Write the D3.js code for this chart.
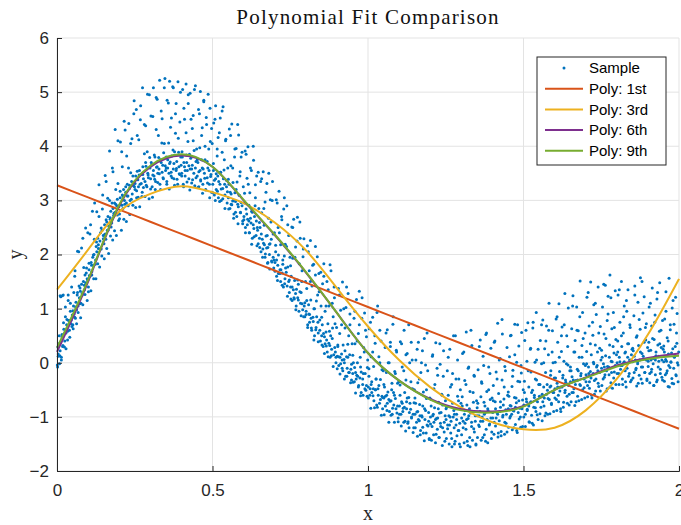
<!DOCTYPE html>
<html>
<head>
<meta charset="utf-8">
<script src="https://cdn.jsdelivr.net/npm/d3@7"></script>
<style>
  body { margin: 0; background: #fff; }
  svg { display: block; }
</style>
</head>
<body>
<div id="chart"></div>
<script>
// ---- data ----
const xTicks = [0, 0.5, 1, 1.5, 2];
const yTicks = [-2, -1, 0, 1, 2, 3, 4, 5, 6];
const fitX = [0,0.1,0.2,0.3,0.4,0.5,0.6,0.7,0.8,0.9,1.0,1.1,1.2,1.3,1.4,1.5,1.6,1.7,1.8,1.9,2.0];
const poly1 = [3.28,3.055,2.83,2.605,2.38,2.155,1.93,1.705,1.48,1.255,1.03,0.805,0.58,0.355,0.13,-0.095,-0.32,-0.545,-0.77,-0.995,-1.22];
const poly3 = [1.35,2.09,2.79,3.12,3.26,3.15,2.95,2.59,2.08,1.38,0.67,0.05,-0.45,-0.83,-1.1,-1.23,-1.2,-0.88,-0.3,0.52,1.55];
const poly6 = [0.2,1.5,2.9,3.62,3.83,3.62,3.0,2.36,1.67,0.92,0.18,-0.33,-0.67,-0.86,-0.9,-0.8,-0.5,-0.27,-0.05,0.09,0.17];
const poly9 = [0.28,1.53,2.92,3.64,3.85,3.62,3.01,2.37,1.68,0.92,0.18,-0.33,-0.68,-0.88,-0.92,-0.81,-0.5,-0.28,-0.07,0.07,0.13];

// sample points, first pass, grouped by x range
const sampleA = [
[0.002,-0.08],[0.004,0.12],[0.006,0.35],[0.008,-0.02],[0.010,0.22],[0.012,1.22],[0.014,0.05],[0.016,0.48],[0.018,0.3],[0.020,1.25],[0.022,0.62],[0.025,0.4],[0.027,0.85],[0.029,0.55],[0.031,0.7],[0.034,0.42],[0.036,1.15],[0.038,0.78],[0.040,0.6],[0.043,0.95],[0.045,0.72],[0.047,1.4],[0.049,0.88],
[0.051,0.7],[0.053,1.05],[0.055,0.9],[0.057,1.6],[0.059,0.82],[0.061,1.12],[0.063,0.98],[0.066,1.3],[0.068,1.05],[0.070,2.05],[0.072,1.2],[0.074,1.38],[0.077,1.1],[0.079,1.45],[0.081,1.28],[0.083,2.3],[0.085,1.5],[0.088,1.35],[0.090,1.62],[0.092,1.48],[0.095,1.75],[0.097,1.55],[0.099,2.4],
[0.101,1.4],[0.103,1.72],[0.106,1.6],[0.108,2.55],[0.110,1.85],[0.112,1.68],[0.115,1.95],[0.117,1.8],[0.119,2.0],[0.121,2.95],[0.124,1.9],[0.126,2.15],[0.128,2.05],[0.131,2.3],[0.133,2.18],[0.135,2.7],[0.138,2.25],[0.140,2.4],[0.142,2.1],[0.145,2.45],[0.147,3.1],[0.149,2.35],
[0.151,2.2],[0.153,2.55],[0.155,2.38],[0.158,3.35],[0.160,2.6],[0.162,2.45],[0.164,2.7],[0.167,2.52],[0.169,3.0],[0.171,2.65],[0.173,2.8],[0.176,2.58],[0.178,3.6],[0.180,2.85],[0.182,2.72],[0.185,2.95],[0.187,2.78],[0.189,3.2],[0.192,2.9],[0.194,3.02],[0.196,4.1],[0.199,2.88],
[0.201,2.75],[0.203,3.05],[0.205,2.92],[0.208,3.9],[0.210,3.1],[0.212,2.85],[0.214,3.2],[0.217,3.0],[0.219,4.3],[0.221,3.15],[0.223,2.95],[0.226,3.3],[0.228,3.08],[0.230,3.6],[0.233,3.22],[0.235,3.0],[0.237,4.05],[0.240,3.35],[0.242,3.12],[0.244,3.45],[0.247,4.6],[0.249,3.25],
[0.251,3.2],[0.253,3.45],[0.256,3.05],[0.258,4.2],[0.260,3.38],[0.262,3.25],[0.265,3.55],[0.267,3.3],[0.269,4.75],[0.271,3.48],[0.274,3.15],[0.276,3.62],[0.278,3.4],[0.281,4.4],[0.283,3.35],[0.285,3.7],[0.287,3.28],[0.290,3.9],[0.292,3.5],[0.294,3.42],[0.297,4.95],[0.299,3.6],
[0.301,3.4],[0.303,3.7],[0.306,3.25],[0.308,4.55],[0.310,3.55],[0.312,3.45],[0.315,3.8],[0.317,3.35],[0.319,4.9],[0.322,3.62],[0.324,3.5],[0.326,4.2],[0.328,3.58],[0.331,3.3],[0.333,3.75],[0.335,4.65],[0.338,3.52],[0.340,3.65],[0.342,3.4],[0.345,4.05],[0.347,5.25],[0.349,3.55],
[0.351,3.6],[0.353,3.35],[0.356,3.75],[0.358,4.8],[0.360,3.5],[0.362,3.68],[0.365,4.35],[0.367,3.45],[0.369,3.82],[0.372,5.1],[0.374,3.58],[0.376,3.4],[0.378,3.9],[0.381,4.6],[0.383,3.55],[0.385,3.72],[0.388,3.3],[0.390,4.15],[0.392,3.62],[0.395,3.48],[0.397,5.0],[0.399,3.65],
[0.401,3.5],[0.403,3.8],[0.406,3.3],[0.408,4.7],[0.410,3.62],[0.412,3.45],[0.415,4.25],[0.417,3.7],[0.419,3.55],[0.422,4.95],[0.424,3.4],[0.426,3.85],[0.428,3.58],[0.431,4.5],[0.433,3.32],[0.435,3.65],[0.438,4.1],[0.440,3.5],[0.442,5.05],[0.445,3.6],[0.447,3.42],[0.449,3.95],
[0.451,3.45],[0.453,3.7],[0.456,3.25],[0.458,4.6],[0.460,3.55],[0.462,3.38],[0.465,4.2],[0.467,3.6],[0.469,3.3],[0.472,4.85],[0.474,3.5],[0.476,3.75],[0.478,3.2],[0.481,4.4],[0.483,3.42],[0.485,3.6],[0.488,3.95],[0.490,3.3],[0.492,4.7],[0.495,3.48],[0.497,3.15],[0.499,4.05]
];
const sampleB = [
[0.501,3.3],[0.503,3.55],[0.506,3.1],[0.508,4.5],[0.510,3.4],[0.512,3.2],[0.515,3.95],[0.517,3.45],[0.519,3.05],[0.522,4.25],[0.524,3.3],[0.526,3.52],[0.528,3.0],[0.531,4.65],[0.533,3.22],[0.535,3.4],[0.538,3.75],[0.540,3.1],[0.542,4.1],[0.545,3.25],[0.547,2.95],[0.549,3.6],
[0.551,3.05],[0.553,3.3],[0.556,2.85],[0.558,4.2],[0.560,3.12],[0.562,2.92],[0.565,3.6],[0.567,3.0],[0.569,2.75],[0.572,3.95],[0.574,2.98],[0.576,3.2],[0.578,2.7],[0.581,4.4],[0.583,2.88],[0.585,3.1],[0.588,3.45],[0.590,2.78],[0.592,3.8],[0.595,2.9],[0.597,2.62],[0.599,3.25],
[0.601,2.7],[0.603,2.95],[0.606,2.5],[0.608,3.85],[0.610,2.75],[0.612,2.55],[0.615,3.3],[0.617,2.62],[0.619,2.4],[0.622,3.6],[0.624,2.58],[0.626,2.8],[0.628,2.3],[0.631,4.0],[0.633,2.48],[0.635,2.7],[0.638,3.05],[0.640,2.35],[0.642,3.45],[0.645,2.45],[0.647,2.2],[0.649,2.85],
[0.651,2.3],[0.653,2.5],[0.656,2.05],[0.658,3.4],[0.660,2.28],[0.662,2.1],[0.665,2.85],[0.667,2.18],[0.669,1.95],[0.672,3.15],[0.674,2.12],[0.676,2.35],[0.678,1.85],[0.681,3.5],[0.683,2.0],[0.685,2.2],[0.688,2.6],[0.690,1.88],[0.692,3.0],[0.695,1.95],[0.697,1.75],[0.699,2.4],
[0.701,1.85],[0.703,2.05],[0.706,1.6],[0.708,2.95],[0.710,1.8],[0.712,1.65],[0.715,2.4],[0.717,1.72],[0.719,1.5],[0.722,2.7],[0.724,1.66],[0.726,1.9],[0.728,1.4],[0.731,3.05],[0.733,1.55],[0.735,1.75],[0.738,2.15],[0.740,1.42],[0.742,2.55],[0.745,1.5],[0.747,1.3],[0.749,1.95],
[0.751,1.4],[0.753,1.6],[0.756,1.15],[0.758,2.5],[0.760,1.35],[0.762,1.2],[0.765,1.95],[0.767,1.28],[0.769,1.05],[0.772,2.25],[0.774,1.2],[0.776,1.45],[0.778,0.95],[0.781,2.6],[0.783,1.1],[0.785,1.3],[0.788,1.7],[0.790,0.98],[0.792,2.1],[0.795,1.05],[0.797,0.85],[0.799,1.5],
[0.801,0.95],[0.803,1.15],[0.806,0.7],[0.808,2.05],[0.810,0.9],[0.812,0.75],[0.815,1.5],[0.817,0.82],[0.819,0.6],[0.822,1.8],[0.824,0.76],[0.826,1.0],[0.828,0.5],[0.831,2.15],[0.833,0.65],[0.835,0.85],[0.838,1.25],[0.840,0.55],[0.842,1.65],[0.845,0.6],[0.847,0.4],[0.849,1.05],
[0.851,0.5],[0.853,0.7],[0.856,0.3],[0.858,1.6],[0.860,0.48],[0.862,0.35],[0.865,1.05],[0.867,0.42],[0.869,0.2],[0.872,1.35],[0.874,0.36],[0.876,0.58],[0.878,0.1],[0.881,1.7],[0.883,0.25],[0.885,0.45],[0.888,0.85],[0.890,0.15],[0.892,1.2],[0.895,0.2],[0.897,0.0],[0.899,0.65],
[0.901,0.12],[0.903,0.3],[0.906,-0.05],[0.908,1.25],[0.910,0.1],[0.912,-0.02],[0.915,0.7],[0.917,0.05],[0.919,-0.15],[0.922,1.0],[0.924,0.0],[0.926,0.22],[0.928,-0.25],[0.931,1.4],[0.933,-0.1],[0.935,0.1],[0.938,0.5],[0.940,-0.18],[0.942,0.9],[0.945,-0.12],[0.947,-0.32],[0.949,0.35],
[0.951,-0.2],[0.953,0.0],[0.956,-0.35],[0.958,0.95],[0.960,-0.18],[0.962,-0.3],[0.965,0.4],[0.967,-0.25],[0.969,-0.45],[0.972,0.7],[0.974,-0.28],[0.976,-0.08],[0.978,-0.55],[0.981,1.2],[0.983,-0.4],[0.985,-0.2],[0.988,0.2],[0.990,-0.48],[0.992,0.6],[0.995,-0.42],[0.997,-0.62],[0.999,0.05]
];
const sampleC = [
[1.001,-0.45],[1.003,-0.25],[1.006,-0.6],[1.008,0.75],[1.010,-0.4],[1.012,-0.55],[1.015,0.2],[1.017,-0.48],[1.019,-0.7],[1.022,0.5],[1.024,-0.5],[1.026,-0.3],[1.028,-0.78],[1.031,1.05],[1.033,-0.6],[1.035,-0.42],[1.038,0.0],[1.040,-0.68],[1.042,0.4],[1.045,-0.62],[1.047,-0.85],[1.049,-0.15],
[1.051,-0.65],[1.053,-0.45],[1.056,-0.8],[1.058,0.55],[1.060,-0.6],[1.062,-0.75],[1.065,0.0],[1.067,-0.68],[1.069,-0.9],[1.072,0.3],[1.074,-0.7],[1.076,-0.5],[1.078,-0.95],[1.081,0.85],[1.083,-0.78],[1.085,-0.6],[1.088,-0.2],[1.090,-0.85],[1.092,0.2],[1.095,-0.8],[1.097,-1.02],[1.099,-0.35],
[1.101,-0.8],[1.103,-0.6],[1.106,-0.95],[1.108,0.35],[1.110,-0.75],[1.112,-0.9],[1.115,-0.15],[1.117,-0.82],[1.119,-1.08],[1.122,0.15],[1.124,-0.85],[1.126,-0.65],[1.128,-1.12],[1.131,0.7],[1.133,-0.92],[1.135,-0.75],[1.138,-0.35],[1.140,-1.0],[1.142,0.05],[1.145,-0.95],[1.147,-1.2],[1.149,-0.5],
[1.151,-0.95],[1.153,-0.75],[1.156,-1.1],[1.158,0.25],[1.160,-0.9],[1.162,-1.05],[1.165,-0.3],[1.167,-0.98],[1.169,-1.25],[1.172,0.0],[1.174,-1.0],[1.176,-0.8],[1.178,-1.3],[1.181,0.45],[1.183,-1.05],[1.185,-0.88],[1.188,-0.5],[1.190,-1.15],[1.192,-0.15],[1.195,-1.08],[1.197,-1.4],[1.199,-0.65],
[1.201,-1.0],[1.203,-0.8],[1.206,-1.18],[1.208,0.15],[1.210,-0.95],[1.212,-1.1],[1.215,-0.4],[1.217,-1.05],[1.219,-1.32],[1.222,-0.1],[1.224,-1.02],[1.226,-0.85],[1.228,-1.38],[1.231,0.35],[1.233,-1.12],[1.235,-0.92],[1.238,-0.6],[1.240,-1.2],[1.242,-0.25],[1.245,-1.1],[1.247,-1.45],[1.249,-0.7],
[1.251,-1.05],[1.253,-0.82],[1.256,-1.22],[1.258,0.1],[1.260,-0.98],[1.262,-1.15],[1.265,-0.45],[1.267,-1.08],[1.269,-1.4],[1.272,-0.2],[1.274,-1.0],[1.276,-0.88],[1.278,-1.5],[1.281,0.5],[1.283,-1.15],[1.285,-0.95],[1.288,-0.62],[1.290,-1.25],[1.292,-0.3],[1.295,-1.12],[1.297,-1.55],[1.299,-0.75],
[1.301,-1.02],[1.303,-0.8],[1.306,-1.2],[1.308,0.2],[1.310,-0.95],[1.312,-1.12],[1.315,-0.4],[1.317,-1.05],[1.319,-1.45],[1.322,-0.1],[1.324,-0.98],[1.326,-0.85],[1.328,-1.55],[1.331,0.6],[1.333,-1.1],[1.335,-0.9],[1.338,-0.55],[1.340,-1.22],[1.342,-0.25],[1.345,-1.08],[1.347,-1.5],[1.349,-0.7],
[1.351,-0.98],[1.353,-0.75],[1.356,-1.15],[1.358,0.3],[1.360,-0.9],[1.362,-1.08],[1.365,-0.35],[1.367,-1.0],[1.369,-1.38],[1.372,-0.05],[1.374,-0.95],[1.376,-0.8],[1.378,-1.45],[1.381,0.55],[1.383,-1.05],[1.385,-0.85],[1.388,-0.5],[1.390,-1.15],[1.392,-0.2],[1.395,-1.02],[1.397,-1.4],[1.399,-0.65],
[1.401,-0.92],[1.403,-0.7],[1.406,-1.1],[1.408,0.4],[1.410,-0.85],[1.412,-1.02],[1.415,-0.3],[1.417,-0.95],[1.419,-1.3],[1.422,0.05],[1.424,-0.9],[1.426,-0.72],[1.428,-1.35],[1.431,0.8],[1.433,-1.0],[1.435,-0.78],[1.438,-0.45],[1.440,-1.1],[1.442,-0.15],[1.445,-0.95],[1.447,-1.28],[1.449,-0.6],
[1.451,-0.85],[1.453,-0.62],[1.456,-1.02],[1.458,0.5],[1.460,-0.8],[1.462,-0.95],[1.465,-0.25],[1.467,-0.88],[1.469,-1.2],[1.472,0.15],[1.474,-0.82],[1.476,-0.65],[1.478,-1.25],[1.481,0.7],[1.483,-0.92],[1.485,-0.7],[1.488,-0.35],[1.490,-1.0],[1.492,-0.05],[1.495,-0.85],[1.497,-1.18],[1.499,-0.5]
];
const sampleD = [
[1.501,-0.78],[1.503,-0.55],[1.506,-0.95],[1.508,0.6],[1.510,-0.72],[1.512,-0.88],[1.515,-0.15],[1.517,-0.8],[1.519,-1.1],[1.522,0.25],[1.524,-0.72],[1.526,-0.55],[1.528,-1.12],[1.531,0.75],[1.533,-0.82],[1.535,-0.6],[1.538,-0.3],[1.540,-0.9],[1.542,0.05],[1.545,-0.72],[1.547,-1.05],[1.549,-0.4],
[1.551,-0.62],[1.553,-0.4],[1.556,-0.82],[1.558,0.7],[1.560,-0.58],[1.562,-0.72],[1.565,0.0],[1.567,-0.65],[1.569,-0.98],[1.572,0.4],[1.574,-0.58],[1.576,-0.4],[1.578,-0.95],[1.581,0.6],[1.583,-0.68],[1.585,-0.45],[1.588,-0.15],[1.590,-0.75],[1.592,0.2],[1.595,-0.55],[1.597,-0.9],[1.599,-0.28],
[1.601,-0.48],[1.603,-0.28],[1.606,-0.68],[1.608,0.85],[1.610,-0.45],[1.612,-0.6],[1.615,0.1],[1.617,-0.52],[1.619,-0.85],[1.622,0.5],[1.624,-0.45],[1.626,-0.28],[1.628,-0.82],[1.631,0.7],[1.633,-0.55],[1.635,-0.32],[1.638,-0.02],[1.640,-0.62],[1.642,0.3],[1.645,-0.42],[1.647,-0.78],[1.649,-0.15],
[1.651,-0.35],[1.653,-0.15],[1.656,-0.55],[1.658,1.05],[1.660,-0.32],[1.662,-0.48],[1.665,0.2],[1.667,-0.4],[1.669,-0.72],[1.672,0.6],[1.674,-0.32],[1.676,-0.15],[1.678,-0.7],[1.681,0.85],[1.683,-0.42],[1.685,-0.2],[1.688,0.1],[1.690,-0.5],[1.692,0.45],[1.695,-0.3],[1.697,-0.65],[1.699,-0.05],
[1.701,-0.22],[1.703,-0.02],[1.706,-0.42],[1.708,1.3],[1.710,-0.2],[1.712,-0.35],[1.715,0.35],[1.717,-0.28],[1.719,-0.6],[1.722,0.75],[1.724,-0.2],[1.726,-0.02],[1.728,-0.58],[1.731,1.1],[1.733,-0.3],[1.735,-0.08],[1.738,0.2],[1.740,-0.38],[1.742,0.55],[1.745,-0.18],[1.747,-0.52],[1.749,0.05],
[1.751,-0.1],[1.753,0.1],[1.756,-0.3],[1.758,1.45],[1.760,-0.08],[1.762,-0.22],[1.765,0.45],[1.767,-0.15],[1.769,-0.48],[1.772,0.9],[1.774,-0.08],[1.776,0.1],[1.778,-0.45],[1.781,1.2],[1.783,-0.18],[1.785,0.02],[1.788,0.3],[1.790,-0.28],[1.792,0.65],[1.795,-0.05],[1.797,-0.4],[1.799,0.15],
[1.801,0.0],[1.803,0.2],[1.806,-0.2],[1.808,1.35],[1.810,0.02],[1.812,-0.12],[1.815,0.5],[1.817,-0.05],[1.819,-0.4],[1.822,0.85],[1.824,0.02],[1.826,0.18],[1.828,-0.35],[1.831,1.15],[1.833,-0.1],[1.835,0.1],[1.838,0.35],[1.840,-0.2],[1.842,0.7],[1.845,0.05],[1.847,-0.32],[1.849,0.25],
[1.851,0.02],[1.853,0.22],[1.856,-0.18],[1.858,1.25],[1.860,0.05],[1.862,-0.1],[1.865,0.5],[1.867,-0.02],[1.869,-0.38],[1.872,0.8],[1.874,0.05],[1.876,0.2],[1.878,-0.3],[1.881,1.5],[1.883,-0.08],[1.885,0.12],[1.888,0.38],[1.890,-0.18],[1.892,0.65],[1.895,0.05],[1.897,-0.3],[1.899,0.28],
[1.901,0.03],[1.903,0.22],[1.906,-0.2],[1.908,1.1],[1.910,0.05],[1.912,-0.12],[1.915,0.45],[1.917,-0.02],[1.919,-0.42],[1.922,0.75],[1.924,0.05],[1.926,0.2],[1.928,-0.35],[1.931,1.3],[1.933,-0.08],[1.935,0.12],[1.938,0.35],[1.940,-0.2],[1.942,0.6],[1.945,0.05],[1.947,-0.32],[1.949,0.25],
[1.951,0.02],[1.953,0.2],[1.956,-0.22],[1.958,0.95],[1.960,0.03],[1.962,-0.15],[1.965,0.4],[1.967,-0.05],[1.969,-0.45],[1.972,0.7],[1.974,0.02],[1.976,0.18],[1.978,-0.38],[1.981,1.15],[1.983,-0.1],[1.985,0.1],[1.988,0.3],[1.990,-0.22],[1.992,0.55],[1.995,0.0],[1.997,-0.35],[1.999,0.2]
];

// sample points, second pass (fills the band more irregularly)
const sampleE = [
[0.001,-0.04],[0.003,0.29],[0.004,0.16],[0.007,0.5],[0.009,0.13],[0.010,1.24],[0.012,0.37],[0.014,0.1],[0.016,0.52],[0.017,1.24],[0.019,0.32],[0.021,0.74],[0.024,0.29],[0.026,0.56],[0.027,1.03],[0.029,0.26],[0.032,0.8],[0.034,0.58],[0.036,1.25],[0.038,0.78],[0.041,0.47],[0.043,1.1],[0.046,0.79],[0.048,0.67],
[0.051,0.96],[0.052,0.63],[0.054,1.3],[0.057,0.84],[0.058,1.7],[0.060,1.03],[0.063,0.72],[0.065,1.25],[0.066,2.06],[0.068,0.93],[0.071,1.42],[0.073,1.09],[0.075,1.32],[0.076,0.83],[0.079,2.12],[0.081,1.25],[0.083,1.07],[0.086,1.76],[0.088,1.43],[0.090,1.26],[0.092,2.49],[0.094,1.66],[0.097,1.15],[0.099,1.52],
[0.101,1.31],[0.103,1.84],[0.104,1.61],[0.106,2.38],[0.109,1.33],[0.111,1.8],[0.112,1.62],[0.114,2.8],[0.117,1.99],[0.118,1.55],[0.120,2.28],[0.123,1.82],[0.125,1.55],[0.127,2.23],[0.128,2.79],[0.131,1.83],[0.133,2.11],[0.135,3.29],[0.137,1.77],[0.140,2.11],[0.142,2.49],[0.144,1.97],[0.146,2.84],[0.149,2.29],
[0.151,2.36],[0.152,1.92],[0.155,3.46],[0.157,2.28],[0.158,2.64],[0.160,2.11],[0.163,3.04],[0.164,2.45],[0.166,2.02],[0.169,3.91],[0.171,2.68],[0.172,2.34],[0.174,2.51],[0.177,2.95],[0.179,2.27],[0.180,3.53],[0.183,2.76],[0.185,2.44],[0.187,4.31],[0.189,2.93],[0.191,2.35],[0.194,2.73],[0.196,3.31],[0.198,2.63],
[0.201,2.66],[0.203,3.17],[0.204,4.08],[0.207,2.45],[0.209,2.91],[0.210,3.62],[0.212,3.08],[0.215,2.65],[0.216,4.46],[0.218,2.93],[0.221,3.25],[0.223,2.61],[0.224,3.82],[0.226,3.08],[0.229,2.9],[0.231,4.42],[0.233,3.28],[0.234,2.74],[0.237,3.51],[0.239,3.02],[0.241,4.14],[0.244,2.91],[0.246,3.27],[0.248,4.84],
[0.251,3.31],[0.253,2.87],[0.255,4.68],[0.256,3.18],[0.258,3.54],[0.261,3.06],[0.263,4.12],[0.264,3.47],[0.266,2.88],[0.268,4.49],[0.271,3.31],[0.273,3.07],[0.275,5.08],[0.276,3.48],[0.278,3.24],[0.281,3.86],[0.283,3.07],[0.285,4.38],[0.286,3.63],[0.289,3.25],[0.291,4.96],[0.293,3.47],[0.296,3.03],[0.298,3.79],
[0.301,3.21],[0.302,4.56],[0.305,3.66],[0.307,3.06],[0.308,3.47],[0.310,5.08],[0.313,3.84],[0.314,3.39],[0.316,3.2],[0.319,4.31],[0.320,3.61],[0.322,4.87],[0.324,3.33],[0.327,3.79],[0.329,3.49],[0.330,5.22],[0.333,3.2],[0.335,3.7],[0.337,4.06],[0.338,4.51],[0.341,3.42],[0.343,3.88],[0.345,5.08],[0.348,3.64],
[0.351,3.8],[0.353,3.3],[0.354,4.85],[0.356,3.6],[0.359,4.06],[0.361,3.21],[0.362,5.2],[0.364,3.71],[0.367,3.52],[0.368,4.52],[0.370,3.42],[0.373,3.93],[0.374,5.08],[0.376,3.68],[0.378,3.28],[0.381,4.24],[0.383,4.79],[0.384,3.59],[0.386,3.39],[0.389,5.19],[0.391,3.89],[0.393,3.49],[0.395,4.45],[0.398,3.8],
[0.401,3.45],[0.402,3.9],[0.404,5.05],[0.407,3.25],[0.408,3.7],[0.410,4.5],[0.412,3.55],[0.415,5.15],[0.416,3.84],[0.418,3.34],[0.421,4.09],[0.422,4.79],[0.424,3.64],[0.427,3.19],[0.428,4.98],[0.430,3.78],[0.433,3.58],[0.435,4.33],[0.436,3.38],[0.438,4.57],[0.441,3.92],[0.443,3.27],[0.445,5.12],[0.447,3.72],
[0.451,3.75],[0.453,3.24],[0.455,4.68],[0.456,3.53],[0.459,3.97],[0.461,5.01],[0.462,3.36],[0.465,3.75],[0.467,4.34],[0.468,3.13],[0.470,3.58],[0.472,4.82],[0.475,3.41],[0.476,4.0],[0.478,3.19],[0.480,4.53],[0.483,3.72],[0.484,3.32],[0.486,4.96],[0.489,3.55],[0.491,3.05],[0.493,4.09],[0.494,3.44],[0.497,4.33]
];
const sampleF = [
[0.501,3.14],[0.503,3.68],[0.504,4.43],[0.506,3.37],[0.509,3.0],[0.510,4.75],[0.512,3.49],[0.515,3.82],[0.516,3.17],[0.518,4.16],[0.520,3.35],[0.523,2.98],[0.525,4.52],[0.526,3.52],[0.528,3.21],[0.531,3.89],[0.533,3.03],[0.534,4.73],[0.537,3.56],[0.539,3.3],[0.540,2.85],[0.543,4.13],[0.545,3.37],[0.548,3.16],
[0.551,3.39],[0.552,2.84],[0.554,4.32],[0.557,3.15],[0.559,3.64],[0.560,2.93],[0.562,4.41],[0.565,2.99],[0.566,3.33],[0.568,2.67],[0.571,3.8],[0.572,3.14],[0.574,2.78],[0.576,3.96],[0.579,3.34],[0.581,2.93],[0.582,2.57],[0.584,4.21],[0.587,3.09],[0.589,3.53],[0.590,2.77],[0.592,2.96],[0.595,3.89],[0.597,2.57],
[0.601,2.64],[0.603,3.13],[0.605,3.91],[0.606,2.4],[0.608,2.84],[0.611,3.41],[0.613,2.65],[0.614,3.99],[0.617,2.91],[0.618,2.4],[0.620,3.14],[0.622,2.67],[0.625,3.55],[0.626,2.19],[0.628,2.78],[0.631,2.55],[0.632,3.74],[0.634,2.33],[0.637,2.9],[0.638,3.29],[0.641,2.62],[0.643,2.16],[0.644,2.5],[0.647,3.52],
[0.651,2.59],[0.652,2.13],[0.655,3.35],[0.657,2.38],[0.658,2.77],[0.661,1.95],[0.663,3.53],[0.664,2.21],[0.666,2.54],[0.669,2.97],[0.670,2.01],[0.672,2.34],[0.675,3.31],[0.677,1.84],[0.678,2.13],[0.680,2.67],[0.683,2.19],[0.684,1.73],[0.686,3.01],[0.689,2.28],[0.691,1.86],[0.693,3.35],[0.695,2.38],[0.698,1.9],
[0.701,1.69],[0.703,2.17],[0.705,3.01],[0.706,1.9],[0.709,1.52],[0.711,2.5],[0.712,1.99],[0.714,3.17],[0.717,1.65],[0.719,2.18],[0.720,1.72],[0.723,2.64],[0.724,1.43],[0.726,1.82],[0.729,2.84],[0.731,1.97],[0.732,1.46],[0.734,2.19],[0.737,1.67],[0.739,2.9],[0.741,1.23],[0.742,1.77],[0.745,2.35],[0.747,1.53],
[0.751,1.79],[0.752,1.18],[0.755,2.51],[0.756,1.4],[0.758,1.93],[0.761,2.65],[0.763,1.18],[0.764,1.52],[0.767,2.14],[0.768,0.98],[0.770,1.36],[0.773,2.69],[0.774,1.53],[0.776,1.16],[0.779,1.83],[0.781,1.31],[0.782,2.3],[0.785,0.87],[0.787,1.5],[0.788,1.09],[0.791,1.96],[0.793,0.85],[0.794,2.29],[0.797,1.11],
[0.801,0.89],[0.803,1.37],[0.805,2.16],[0.806,0.65],[0.809,1.07],[0.811,1.7],[0.812,0.89],[0.815,2.26],[0.816,1.16],[0.818,0.64],[0.820,1.42],[0.823,0.84],[0.825,1.82],[0.826,0.42],[0.828,1.0],[0.831,1.62],[0.832,0.61],[0.834,1.14],[0.837,1.96],[0.839,0.75],[0.840,0.39],[0.843,1.31],[0.845,0.79],[0.848,1.67],
[0.851,0.84],[0.852,0.33],[0.854,1.46],[0.857,0.54],[0.858,1.83],[0.860,0.17],[0.862,0.95],[0.865,0.57],[0.866,0.31],[0.868,1.5],[0.871,0.72],[0.872,0.11],[0.874,1.05],[0.877,0.32],[0.878,1.81],[0.880,0.5],[0.882,0.13],[0.885,1.1],[0.886,0.64],[0.888,-0.07],[0.891,1.4],[0.893,0.28],[0.894,0.72],[0.897,0.1],
[0.901,-0.11],[0.903,0.33],[0.905,1.37],[0.906,0.11],[0.909,0.54],[0.910,-0.21],[0.912,0.97],[0.915,0.16],[0.917,-0.1],[0.918,1.49],[0.920,0.33],[0.923,0.06],[0.924,-0.3],[0.926,0.64],[0.929,1.02],[0.931,0.11],[0.932,-0.25],[0.935,0.34],[0.936,1.28],[0.938,-0.18],[0.941,0.15],[0.942,0.7],[0.944,-0.37],[0.947,-0.03],
[0.951,0.14],[0.952,-0.36],[0.955,0.82],[0.957,-0.09],[0.958,0.35],[0.960,-0.56],[0.963,1.17],[0.964,-0.23],[0.966,0.0],[0.969,0.54],[0.970,-0.42],[0.972,1.32],[0.975,0.1],[0.976,-0.61],[0.978,-0.17],[0.980,0.82],[0.983,-0.3],[0.984,-0.6],[0.986,0.28],[0.989,0.92],[0.991,-0.2],[0.993,-0.51],[0.995,0.48],[0.998,-0.09]
];
const sampleG = [
[1.001,-0.65],[1.003,-0.11],[1.004,0.63],[1.007,-0.48],[1.009,-0.84],[1.010,0.11],[1.012,-0.35],[1.015,0.84],[1.016,-0.61],[1.018,-0.07],[1.021,-0.83],[1.023,0.36],[1.024,-0.5],[1.026,-0.3],[1.029,0.93],[1.030,-0.82],[1.032,-0.48],[1.035,0.11],[1.037,-0.75],[1.038,0.6],[1.040,-0.31],[1.043,-0.97],[1.045,-0.13],[1.047,-0.64],
[1.051,-0.4],[1.052,-0.96],[1.055,0.28],[1.056,-0.62],[1.059,-0.18],[1.061,-0.88],[1.062,0.61],[1.064,-0.54],[1.067,-1.1],[1.068,0.0],[1.071,-0.71],[1.072,0.38],[1.074,-0.97],[1.077,-0.38],[1.079,-0.84],[1.080,0.71],[1.082,-0.55],[1.085,-1.1],[1.086,-0.16],[1.088,-0.66],[1.091,0.23],[1.093,-0.93],[1.095,-0.38],[1.097,-1.09],
[1.101,-0.95],[1.103,-0.41],[1.104,0.39],[1.107,-1.17],[1.108,-0.72],[1.110,-0.08],[1.113,-0.84],[1.115,-1.1],[1.116,0.6],[1.118,-0.55],[1.121,-1.26],[1.122,-0.32],[1.124,-0.72],[1.126,0.17],[1.129,-1.09],[1.131,-0.64],[1.132,-1.2],[1.134,0.0],[1.137,-0.86],[1.139,0.38],[1.140,-1.02],[1.143,-0.48],[1.145,-1.29],[1.148,-0.74],
[1.151,-0.65],[1.152,-1.2],[1.154,0.05],[1.157,-0.91],[1.159,-1.36],[1.160,-0.37],[1.162,0.38],[1.165,-1.07],[1.166,-0.77],[1.168,-1.33],[1.170,-0.18],[1.173,-0.98],[1.175,0.22],[1.176,-1.19],[1.178,-0.54],[1.181,-1.44],[1.182,-0.85],[1.185,-0.04],[1.187,-1.3],[1.188,-0.66],[1.190,0.55],[1.193,-1.17],[1.195,-0.92],[1.197,-1.42],
[1.201,-1.13],[1.203,-0.68],[1.204,-1.43],[1.207,0.12],[1.208,-0.98],[1.211,-1.33],[1.212,-0.48],[1.214,-0.83],[1.217,-1.48],[1.218,0.37],[1.220,-1.03],[1.223,-1.23],[1.224,-0.23],[1.227,-0.73],[1.229,-1.38],[1.230,-0.93],[1.232,-0.03],[1.234,-1.18],[1.237,-0.58],[1.239,-1.53],[1.240,-0.78],[1.243,0.22],[1.245,-1.28],[1.248,-0.98],
[1.251,-0.85],[1.252,-1.4],[1.255,-0.15],[1.256,-1.15],[1.258,-0.6],[1.261,-1.5],[1.263,0.25],[1.264,-1.0],[1.266,-1.3],[1.269,-0.4],[1.270,-1.55],[1.272,-0.75],[1.275,0.5],[1.277,-1.2],[1.278,-0.95],[1.280,-1.45],[1.283,-0.3],[1.285,-1.05],[1.286,-1.35],[1.288,0.05],[1.291,-0.7],[1.292,-1.25],[1.294,-1.5],[1.297,-0.5],
[1.301,-1.33],[1.303,-0.63],[1.304,0.17],[1.306,-1.08],[1.309,-1.48],[1.311,-0.33],[1.312,-0.88],[1.315,-1.23],[1.316,0.57],[1.318,-0.78],[1.321,-1.53],[1.322,-1.03],[1.324,-0.08],[1.327,-1.38],[1.328,-0.53],[1.330,-0.93],[1.333,-1.18],[1.334,0.32],[1.336,-1.43],[1.339,-0.73],[1.341,-0.23],[1.342,-1.28],[1.345,-0.98],[1.347,-1.52],
[1.351,-0.83],[1.352,-1.38],[1.354,-0.13],[1.357,-0.98],[1.358,-1.18],[1.361,0.42],[1.363,-0.63],[1.364,-1.43],[1.366,-0.38],[1.369,-1.08],[1.370,0.12],[1.373,-0.73],[1.374,-1.33],[1.376,-0.93],[1.379,0.52],[1.380,-1.23],[1.382,-0.53],[1.385,-1.48],[1.386,-0.88],[1.388,-0.08],[1.391,-1.13],[1.393,-0.68],[1.395,0.27],[1.398,-1.28],
[1.401,-1.02],[1.403,-0.42],[1.405,-1.32],[1.406,0.38],[1.409,-0.72],[1.410,-1.17],[1.412,-0.17],[1.415,-0.92],[1.417,0.73],[1.418,-1.37],[1.420,-0.57],[1.422,-1.07],[1.425,0.08],[1.426,-0.82],[1.428,-1.27],[1.431,-0.32],[1.432,0.53],[1.434,-0.97],[1.437,-0.67],[1.439,-1.32],[1.440,-0.07],[1.443,-0.87],[1.444,-1.12],[1.447,0.28],
[1.451,-0.54],[1.452,-1.19],[1.455,0.11],[1.457,-0.79],[1.458,-0.99],[1.460,0.51],[1.463,-0.44],[1.464,-1.24],[1.466,-0.14],[1.469,-0.89],[1.471,-0.64],[1.472,0.71],[1.474,-1.14],[1.477,-0.74],[1.478,0.01],[1.480,-1.29],[1.482,-0.34],[1.485,0.31],[1.486,-1.04],[1.488,-0.84],[1.491,-1.19],[1.493,-0.19],[1.494,0.56],[1.497,-0.69]
];
const sampleH = [
[1.501,-1.0],[1.503,-0.34],[1.504,0.41],[1.506,-1.18],[1.509,-0.67],[1.511,0.03],[1.512,-0.86],[1.514,0.74],[1.517,-0.45],[1.518,-1.09],[1.521,-0.74],[1.523,0.27],[1.524,-0.17],[1.526,-0.97],[1.529,-0.51],[1.530,0.64],[1.532,-1.15],[1.535,-0.64],[1.537,0.01],[1.538,-0.83],[1.541,0.93],[1.542,-0.32],[1.544,-0.96],[1.547,0.25],
[1.551,-0.4],[1.553,-0.94],[1.554,0.41],[1.557,-0.63],[1.558,-0.02],[1.560,-1.07],[1.562,0.79],[1.565,-0.45],[1.566,-0.8],[1.568,0.26],[1.571,-0.18],[1.572,-0.93],[1.574,0.68],[1.577,-0.51],[1.579,-0.66],[1.580,0.15],[1.582,1.1],[1.585,-0.94],[1.587,-0.23],[1.588,-0.43],[1.590,-0.77],[1.593,0.59],[1.595,0.0],[1.597,-0.55],
[1.601,-0.65],[1.602,0.01],[1.605,0.81],[1.607,-0.88],[1.608,-0.38],[1.610,0.38],[1.613,-0.72],[1.614,1.09],[1.616,-0.16],[1.619,-0.45],[1.620,-0.9],[1.622,0.21],[1.624,0.66],[1.627,-0.23],[1.629,-0.73],[1.630,0.03],[1.633,1.28],[1.634,-0.51],[1.636,-0.36],[1.639,0.5],[1.641,-0.75],[1.643,-0.04],[1.644,1.01],[1.647,-0.58],
[1.651,-0.08],[1.653,-0.72],[1.655,0.63],[1.656,-0.26],[1.659,1.24],[1.660,-0.55],[1.662,0.2],[1.665,-0.79],[1.666,0.41],[1.668,-0.33],[1.671,1.03],[1.673,-0.12],[1.674,-0.62],[1.676,0.59],[1.679,0.1],[1.681,-0.4],[1.682,1.51],[1.684,-0.24],[1.687,-0.68],[1.688,0.32],[1.690,0.93],[1.693,-0.02],[1.695,-0.46],[1.698,0.55],
[1.701,-0.35],[1.703,0.21],[1.704,1.21],[1.706,-0.63],[1.709,-0.08],[1.711,0.68],[1.712,-0.47],[1.715,-0.16],[1.716,1.49],[1.718,0.15],[1.720,-0.65],[1.723,0.51],[1.725,0.01],[1.726,1.07],[1.728,-0.33],[1.731,0.33],[1.732,-0.52],[1.734,0.89],[1.737,-0.05],[1.739,-0.15],[1.740,1.4],[1.742,-0.44],[1.745,0.27],[1.747,0.67],
[1.751,0.23],[1.752,-0.42],[1.754,1.03],[1.757,-0.02],[1.759,0.53],[1.760,-0.27],[1.763,1.43],[1.764,0.13],[1.766,-0.52],[1.769,0.78],[1.770,-0.07],[1.772,1.23],[1.775,-0.22],[1.777,0.33],[1.778,1.62],[1.781,-0.37],[1.782,0.03],[1.784,0.63],[1.786,-0.47],[1.789,0.93],[1.791,0.18],[1.792,-0.17],[1.795,1.33],[1.797,0.43],
[1.801,-0.2],[1.803,0.4],[1.804,1.25],[1.807,-0.4],[1.808,0.1],[1.810,0.75],[1.813,-0.05],[1.815,1.5],[1.816,0.3],[1.818,-0.3],[1.821,0.55],[1.822,0.0],[1.824,1.05],[1.827,-0.15],[1.828,0.2],[1.830,-0.45],[1.832,0.95],[1.835,0.35],[1.836,1.35],[1.838,-0.25],[1.841,0.05],[1.843,0.65],[1.844,-0.35],[1.847,0.15],
[1.851,0.27],[1.852,-0.28],[1.855,0.87],[1.856,0.12],[1.858,1.42],[1.861,-0.13],[1.863,0.47],[1.864,-0.43],[1.867,0.02],[1.868,1.12],[1.870,0.32],[1.872,-0.23],[1.875,0.62],[1.876,1.57],[1.879,-0.08],[1.881,0.17],[1.882,-0.38],[1.884,0.92],[1.887,0.07],[1.888,1.22],[1.890,-0.18],[1.893,0.42],[1.895,0.72],[1.897,-0.33],
[1.901,-0.07],[1.903,0.38],[1.904,1.03],[1.906,-0.37],[1.909,0.23],[1.911,-0.17],[1.912,0.68],[1.914,1.38],[1.917,0.08],[1.919,-0.42],[1.920,0.43],[1.923,0.88],[1.924,-0.22],[1.926,0.13],[1.929,1.18],[1.930,-0.32],[1.932,0.33],[1.935,0.03],[1.937,0.58],[1.938,1.48],[1.940,-0.12],[1.943,0.28],[1.945,-0.27],[1.947,0.78],
[1.951,0.31],[1.953,-0.34],[1.954,0.81],[1.957,0.06],[1.958,1.31],[1.960,-0.19],[1.962,0.46],[1.965,-0.44],[1.966,0.16],[1.968,1.56],[1.971,-0.09],[1.972,0.61],[1.974,0.01],[1.977,-0.29],[1.978,1.01],[1.980,0.26],[1.983,-0.39],[1.984,0.71],[1.986,0.11],[1.989,1.21],[1.991,-0.24],[1.993,0.36],[1.994,0.91],[1.997,-0.04]
];
const sample = sampleA.concat(sampleB, sampleC, sampleD, sampleE, sampleF, sampleG, sampleH);

const series = [
  {name: "Poly: 1st", values: poly1, color: "#D95319"},
  {name: "Poly: 3rd", values: poly3, color: "#EDB120"},
  {name: "Poly: 6th", values: poly6, color: "#7E2F8E"},
  {name: "Poly: 9th", values: poly9, color: "#77AC30"}
];

// ---- layout ----
const W = 681, H = 525;
const margin = {top: 38, right: 2, bottom: 54, left: 57};
const width = W - margin.left - margin.right,
      height = H - margin.top - margin.bottom;

const svg = d3.select("#chart").append("svg")
    .attr("width", W)
    .attr("height", H);

const g = svg.append("g")
    .attr("transform", "translate(" + margin.left + "," + margin.top + ")");

const x = d3.scaleLinear().domain([0, 2]).range([0, width]);
const y = d3.scaleLinear().domain([-2, 6]).range([height, 0]);

// grid
g.append("g").selectAll("line").data(xTicks).enter().append("line")
    .attr("x1", d => x(d)).attr("x2", d => x(d))
    .attr("y1", 0).attr("y2", height)
    .attr("stroke", "#e3e3e3").attr("stroke-width", 1);
g.append("g").selectAll("line").data(yTicks).enter().append("line")
    .attr("x1", 0).attr("x2", width)
    .attr("y1", d => y(d)).attr("y2", d => y(d))
    .attr("stroke", "#e3e3e3").attr("stroke-width", 1);

// scatter
g.append("g").selectAll("circle").data(sample).enter().append("circle")
    .attr("cx", d => x(d[0]))
    .attr("cy", d => y(d[1]))
    .attr("r", 1.5)
    .attr("fill", "#0072BD");

// fitted curves
const line = d3.line()
    .x((d, i) => x(fitX[i]))
    .y(d => y(d))
    .curve(d3.curveNatural);

series.forEach(function(s) {
  g.append("path")
    .attr("d", line(s.values))
    .attr("fill", "none")
    .attr("stroke", s.color)
    .attr("stroke-width", 2);
});

// axes
const font = "'Liberation Sans', Arial, Helvetica, sans-serif";
const xAxis = g.append("g")
    .attr("transform", "translate(0," + height + ")")
    .call(d3.axisBottom(x).tickValues(xTicks).tickSize(-5).tickPadding(10).tickFormat(d3.format("")));
const yAxis = g.append("g")
    .call(d3.axisLeft(y).tickValues(yTicks).tickSize(-5).tickPadding(8));

[xAxis, yAxis].forEach(function(a) {
  a.select(".domain").attr("stroke", "#262626").attr("stroke-width", 1);
  a.selectAll(".tick line").attr("stroke", "#262626");
  a.selectAll(".tick text")
    .attr("fill", "#262626")
    .style("font-family", font)
    .style("font-size", "17px");
});
xAxis.selectAll(".tick text").attr("dy", "0.9em");

// title & labels
const serif = "'Liberation Serif', 'DejaVu Serif', serif";
svg.append("text")
    .attr("x", margin.left + width / 2)
    .attr("y", 24)
    .attr("text-anchor", "middle")
    .style("font-family", serif)
    .style("font-size", "21px")
    .style("letter-spacing", "1.2px")
    .attr("fill", "#111")
    .text("Polynomial Fit Comparison");

svg.append("text")
    .attr("x", margin.left + width / 2)
    .attr("y", 520)
    .attr("text-anchor", "middle")
    .style("font-family", serif)
    .style("font-size", "20px")
    .attr("fill", "#262626")
    .text("x");

svg.append("text")
    .attr("transform", "translate(22," + (margin.top + height / 2) + ") rotate(-90)")
    .attr("text-anchor", "middle")
    .style("font-family", serif)
    .style("font-size", "20px")
    .attr("fill", "#262626")
    .text("y");

// legend
const lg = svg.append("g").attr("transform", "translate(537,57)");
lg.append("rect")
    .attr("width", 129).attr("height", 108)
    .attr("fill", "#fff")
    .attr("stroke", "#262626").attr("stroke-width", 1);

const legendItems = [{name: "Sample", color: "#0072BD", dot: true}].concat(series);
const rowH = 20.7;
legendItems.forEach(function(s, i) {
  const cy = 11 + i * rowH;
  if (s.dot) {
    lg.append("circle").attr("cx", 27).attr("cy", cy).attr("r", 1.5).attr("fill", s.color);
  } else {
    lg.append("line")
      .attr("x1", 8).attr("x2", 46)
      .attr("y1", cy).attr("y2", cy)
      .attr("stroke", s.color).attr("stroke-width", 2);
  }
  lg.append("text")
    .attr("x", 52).attr("y", cy)
    .attr("dy", "0.35em")
    .style("font-family", font)
    .style("font-size", "15px")
    .attr("fill", "#000")
    .text(s.name);
});
</script>
</body>
</html>
